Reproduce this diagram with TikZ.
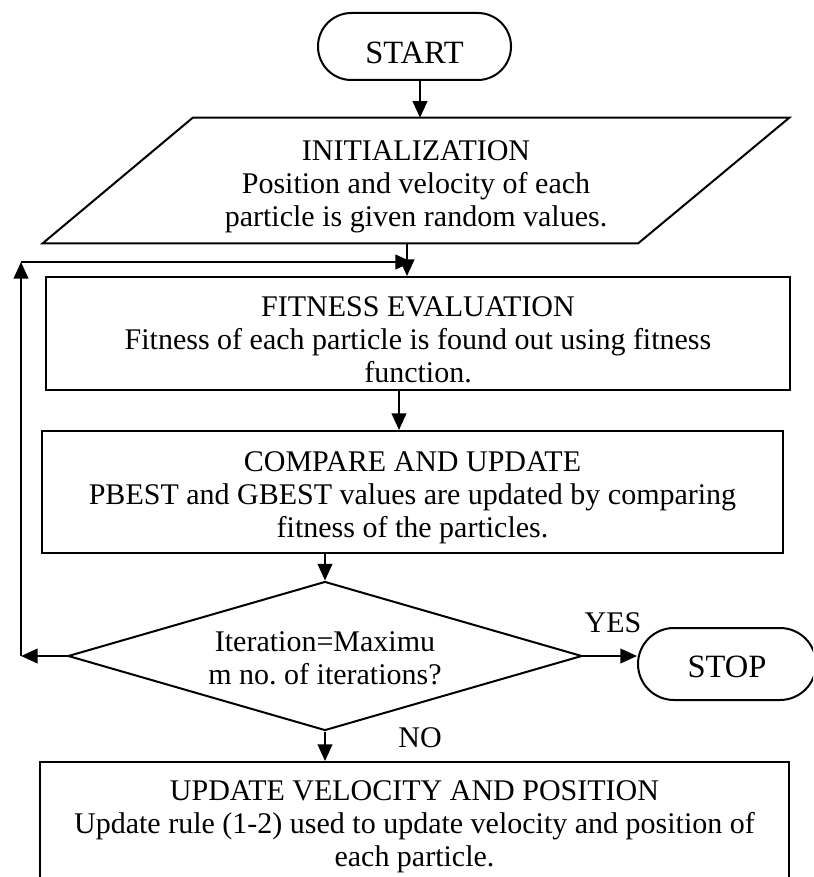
\documentclass[tikz,border=0pt]{standalone}
\usepackage{fontspec}
\setmainfont{Liberation Serif}
\usetikzlibrary{shapes.geometric,arrows.meta,calc}
\begin{document}
\begin{tikzpicture}[x=0.75pt,y=-0.75pt,
  every node/.style={font=\fontsize{22.5pt}{24.75pt}\selectfont, text=black},
  box/.style={draw, line width=1.5pt, rectangle, inner sep=0pt, align=center},
  term/.style={draw, line width=1.5pt, rectangle, inner sep=0pt, rounded corners=25pt,
    font=\fontsize{24.4pt}{26pt}\selectfont},
  para/.style={rectangle, inner sep=0pt, align=center},
  decide/.style={draw, line width=1.5pt, diamond, aspect=3.45, inner sep=0pt, align=center},
  lbl/.style={inner sep=0pt},
  arr/.style={line width=1.5pt, -{Triangle[length=12.5pt,width=11pt]}},
  ]
\useasboundingbox (0,0) rectangle (813,877);
\clip (0,0) rectangle (813,877);
\fill[white] (0,0) rectangle (813,877);

\node[term, minimum width=144.75pt, minimum height=50.25pt] (start) at (414.5,46.5) {\rule{0pt}{25pt}START};
\node[para, minimum width=559.5pt, minimum height=93.75pt] (init) at (416,180.5)
  {\rule{0pt}{24pt}INITIALIZATION\\Position and velocity of each\\particle is given random values.};
\draw[line width=1.5pt] (init.south west) -- ($(init.north west)+(150,0)$) -- (init.north east)
  -- ($(init.south east)+(-151,0)$) -- cycle;
\node[box, minimum width=558pt, minimum height=84.75pt] (fit) at (418,333.5)
  {\rule{0pt}{24pt}FITNESS EVALUATION\\Fitness of each particle is found out using fitness\\function.};
\node[box, minimum width=555.75pt, minimum height=91.5pt] (cmp) at (412.5,492)
  {\rule{0pt}{24pt}COMPARE AND UPDATE\\PBEST and GBEST values are updated by comparing\\fitness of the particles.};
\node[decide, minimum width=385.5pt, minimum height=111.75pt] (dec) at (325,656)
  {\rule{0pt}{18pt}Iteration=Maximu\\m no.\ of iterations?};
\node[term, rounded corners=27pt, minimum width=133.5pt, minimum height=54pt] (stop) at (727,664) {\rule{0pt}{20.7pt}STOP};
\node[box, minimum width=561.75pt, minimum height=88.5pt] (upd) at (414.5,821)
  {\rule{0pt}{24pt}UPDATE VELOCITY AND POSITION\\Update rule (1-2) used to update velocity and position of\\each particle.};

\node[lbl] (yes) at (613,623) {YES};
\node[lbl] (no) at (420,738) {NO};

\coordinate (xa) at (420,0);
\coordinate (xb) at (407,0);
\coordinate (xc) at (399,0);
\coordinate (lb) at (21,656);
\coordinate (lt) at (21,262);
\coordinate (le) at (412,262);

\draw[arr] (start.south -| xa) -- (init.north -| xa);
\draw[arr] (init.south -| xb) -- (fit.north -| xb);
\draw[arr] (fit.south -| xc) -- (cmp.north -| xc);
\draw[arr] (cmp.south -| dec.north) -- (dec.north);
\draw[arr] (dec.south) -- (upd.north -| dec.south);
\draw[arr] (dec.east) -- (dec.east -| stop.west);
\draw[arr] (dec.west) -- (lb);
\draw[arr] (lb) -- (lt);
\draw[arr] (lt) -- (le);
\end{tikzpicture}
\end{document}
